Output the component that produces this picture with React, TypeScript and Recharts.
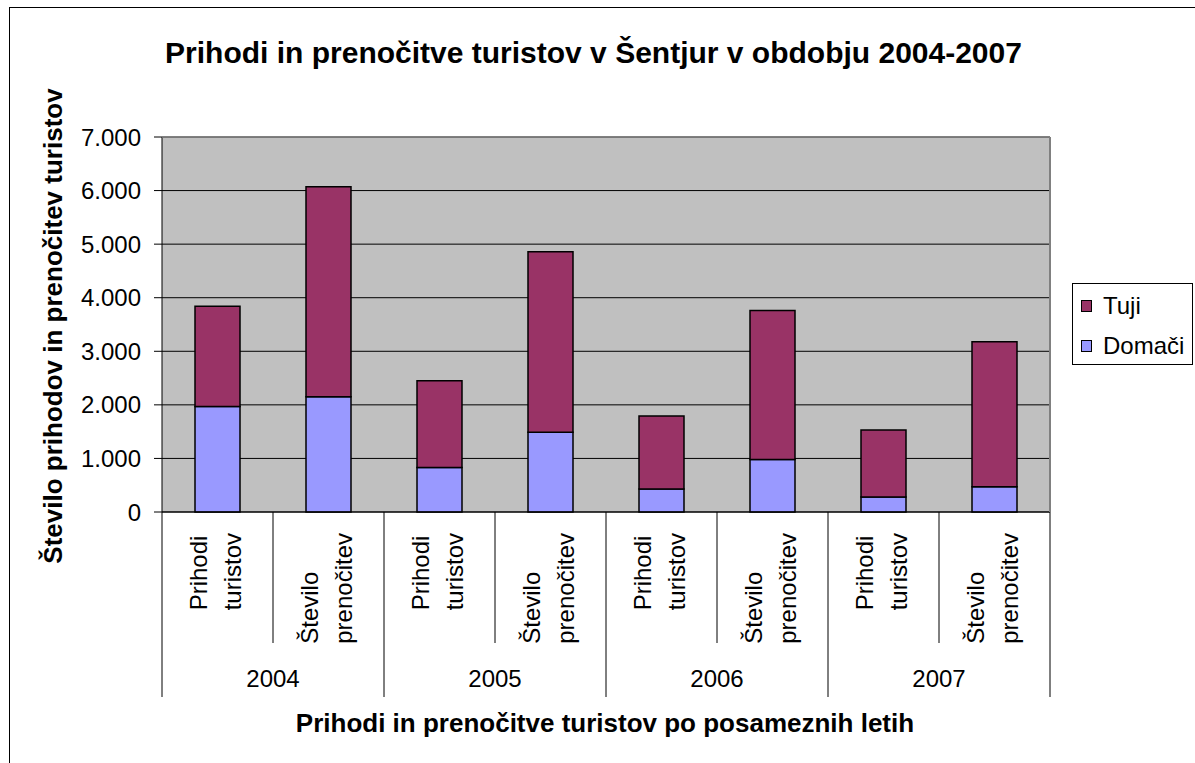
import { BarChart, Bar, XAxis, YAxis, CartesianGrid, Legend } from "recharts";

const years = ["2004", "2005", "2006", "2007"];
const measures = ["Prihodi turistov", "Število prenočitev"];
const domaci = [1970, 2150, 830, 1490, 430, 980, 280, 470];
const tuji = [1870, 3920, 1620, 3370, 1360, 2780, 1250, 2710];
const yTicks = [0, 1000, 2000, 3000, 4000, 5000, 6000, 7000];

const title = "Prihodi in prenočitve turistov v Šentjur v obdobju 2004-2007";
const xTitle = "Prihodi in prenočitve turistov po posameznih letih";
const yTitle = "Število prihodov in prenočitev turistov";

const W = 1195;
const H = 763;
const PLOT_LEFT = 162;
const PLOT_RIGHT = 1050;
const PLOT_TOP = 137;
const PLOT_BOTTOM = 512;
const FONT = "'Liberation Sans', Arial, sans-serif";

const data = years.flatMap((year, yi) =>
  measures.map((m, mi) => ({
    key: `${year} ${m}`,
    year,
    measure: m,
    Domači: domaci[yi * 2 + mi],
    Tuji: tuji[yi * 2 + mi],
  }))
);

let ctx: CanvasRenderingContext2D | null = null;
function textWidth(s: string, font: string) {
  if (!ctx) ctx = document.createElement("canvas").getContext("2d");
  if (!ctx) return s.length * 12;
  ctx.font = font;
  return ctx.measureText(s).width;
}

function fmt(v: number) {
  if (v < 1000) return String(v);
  return `${Math.floor(v / 1000)}.${String(v % 1000).padStart(3, "0")}`;
}

function CategoryTick(props: any) {
  const { x, y, payload } = props;
  const i = payload.index;
  const row = data[i];
  if (!row) return null;
  const band = (PLOT_RIGHT - PLOT_LEFT) / data.length;
  const left = x - band / 2;
  const lines = row.measure.split(" ");
  const maxLen = Math.max(...lines.map((l) => textWidth(l, `24px ${FONT}`)));
  const startY = y + 21 + maxLen;
  return (
    <g>
      <line x1={left} x2={left} y1={y} y2={y + (i % 2 === 0 ? 185 : 131)} stroke="#000" />
      {i === data.length - 1 && (
        <line x1={left + band} x2={left + band} y1={y} y2={y + 185} stroke="#000" />
      )}
      {i % 2 === 0 && (
        <text x={left + band} y={y + 175} textAnchor="middle" fontSize={24} fill="#000">
          {row.year}
        </text>
      )}
      {lines.map((l, li) => (
        <text
          key={li}
          transform={`translate(${x - 10.5 + li * 34},${startY}) rotate(-90)`}
          textAnchor="start"
          fontSize={24}
          fill="#000"
        >
          {l}
        </text>
      ))}
    </g>
  );
}

const colors: Record<string, string> = { Tuji: "#993366", Domači: "#9999FF" };

function LegendBox() {
  return (
    <div
      style={{
        width: 121,
        height: 82,
        boxSizing: "border-box",
        border: "1px solid #000",
        background: "#fff",
        paddingTop: 2,
        fontFamily: FONT,
      }}
    >
      {["Tuji", "Domači"].map((name) => (
        <div key={name} style={{ height: 40, display: "flex", alignItems: "center" }}>
          <span
            style={{
              display: "inline-block",
              width: 11,
              height: 12,
              boxSizing: "border-box",
              border: "1.5px solid #000",
              background: colors[name],
              marginLeft: 8,
            }}
          />
          <span style={{ marginLeft: 11, fontSize: 24, color: "#000" }}>{name}</span>
        </div>
      ))}
    </div>
  );
}

export default function App() {
  return (
    <div
      style={{
        position: "absolute",
        left: 0,
        top: 0,
        width: W,
        height: H,
        overflow: "hidden",
        background: "#fff",
        fontFamily: FONT,
      }}
    >
      <BarChart
        width={W}
        height={H}
        data={data}
        margin={{ top: PLOT_TOP, right: W - PLOT_RIGHT, bottom: 51, left: 12 }}
        barSize={45}
      >
        <CartesianGrid vertical={false} stroke="#000" fill="#C0C0C0" />
        <XAxis
          dataKey="key"
          height={H - PLOT_BOTTOM - 51}
          axisLine={{ stroke: "#000" }}
          tickLine={false}
          tickSize={0}
          tickMargin={0}
          interval={0}
          tick={<CategoryTick />}
        />
        <YAxis
          width={PLOT_LEFT - 12}
          domain={[0, 7000]}
          ticks={yTicks}
          interval={0}
          tickFormatter={fmt}
          axisLine={{ stroke: "#000" }}
          tickLine={{ stroke: "#000" }}
          tickSize={8}
          tickMargin={13}
          tick={{ fill: "#000", fontSize: 24 }}
        />
        <Legend
          layout="vertical"
          align="center"
          verticalAlign="middle"
          wrapperStyle={{ left: 1072, top: 283, width: 121, height: 82 }}
          content={() => <LegendBox />}
        />
        <Bar dataKey="Domači" stackId="a" fill={colors["Domači"]} stroke="#000" strokeWidth={1.5} isAnimationActive={false} />
        <Bar dataKey="Tuji" stackId="a" fill={colors["Tuji"]} stroke="#000" strokeWidth={1.5} isAnimationActive={false} />
      </BarChart>
      <svg
        width={W}
        height={H}
        style={{ position: "absolute", left: 0, top: 0, pointerEvents: "none" }}
      >
        <rect x={9.5} y={7.5} width={1400} height={1000} fill="none" stroke="#000" />
        <line x1={PLOT_LEFT} x2={PLOT_RIGHT} y1={PLOT_TOP} y2={PLOT_TOP} stroke="#808080" strokeWidth={1.5} />
        <line x1={PLOT_RIGHT} x2={PLOT_RIGHT} y1={PLOT_TOP} y2={PLOT_BOTTOM} stroke="#808080" strokeWidth={2} />
        <text x={593.5} y={63} textAnchor="middle" fontSize={30} fontWeight="bold" fill="#000">
          {title}
        </text>
        <text x={605} y={732} textAnchor="middle" fontSize={26} fontWeight="bold" fill="#000">
          {xTitle}
        </text>
        <text
          transform="translate(62,326) rotate(-90)"
          textAnchor="middle"
          fontSize={26}
          fontWeight="bold"
          fill="#000"
        >
          {yTitle}
        </text>
      </svg>
    </div>
  );
}
